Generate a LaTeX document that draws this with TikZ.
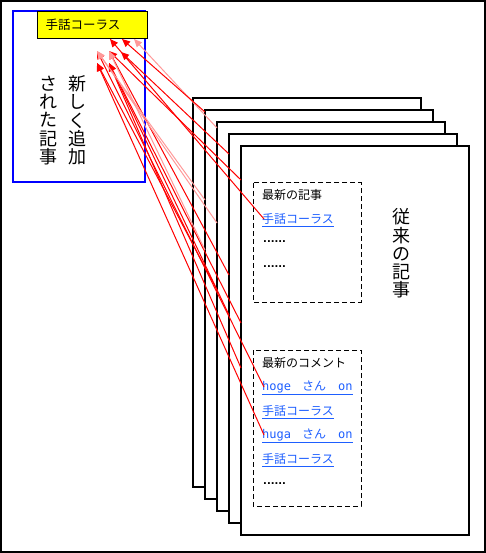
\documentclass[tikz,border=0pt]{standalone}
\usepackage{fontspec}
\setmainfont{Noto Sans CJK JP}
\newfontfamily\latinmono{DejaVu Sans Mono}
\newfontfamily\dotfont{DejaVu Sans}
\usetikzlibrary{arrows.meta}
\definecolor{linkblue}{RGB}{30,95,255}
\definecolor{tagyellow}{RGB}{255,255,0}
\definecolor{newblue}{RGB}{0,0,255}

\begin{document}
\begin{tikzpicture}[x=1pt, y=-1pt]

  % styles
  \tikzset{
    page/.style={draw=black, fill=white, line width=1.4pt},
    recent/.style={draw=black, dash pattern=on 5pt off 3pt, line width=1pt},
    label/.style={anchor=west, inner sep=0pt, font=\fontsize{12}{12}\selectfont},
    link/.style={label, text=linkblue,
      append after command={([yshift=-1.5pt]\tikzlastnode.south west)
        edge[draw=linkblue, line width=1pt] ([yshift=-1.5pt]\tikzlastnode.south east)}},
    dots/.style={label, font=\dotfont\bfseries\fontsize{10}{10}\selectfont},
    vtext/.style={align=center, inner sep=0pt, font=\fontsize{18}{18.3}\selectfont},
    tagbox/.style={draw=black, fill=tagyellow, line width=1pt, anchor=north west,
      inner xsep=8pt, inner ysep=0pt, minimum height=27pt, text width=94pt,
      align=left, font=\fontsize{12.5}{12.5}\selectfont},
    ref/.style={draw=red, line width=1pt, {Triangle[length=8pt,width=7pt]}-},
    faint/.style={ref, draw=red!40}
  }

  \useasboundingbox (0,0) rectangle (486,553);
  \draw[line width=1.6pt] (0.8,0.8) rectangle (485.2,552.2);

  %% new article (left)
  \draw[draw=newblue, fill=white, line width=1.3pt] (13,11) rectangle (145,182);
  \node[tagbox] (tag) at (37,11) {手話コーラス};
  \node[vtext] (added) at (77.5,120.5) {新\\し\\く\\追\\加};
  \node[vtext] (made) at (48.5,120.5) {さ\\れ\\た\\記\\事};

  %% old articles (stack of pages)
  \foreach \k in {0,...,4}
    \draw[page] ({193+12*\k},{98+12*\k}) rectangle ++(228,389);

  \node[vtext] (old) at (401.5,253.5) {従\\来\\の\\記\\事};

  % recent articles box
  \draw[recent] (253,183) rectangle (361,302);
  \node[label] (hdrA) at (262,195) {最新の記事};
  \node[link] (lnkA) at (262,219) {手話コーラス};
  \node[dots] (dotA1) at (263,242) {......};
  \node[dots] (dotA2) at (263,267) {......};

  % recent comments box
  \draw[recent] (253,350) rectangle (361,506);
  \node[label] (hdrC) at (262,363) {最新のコメント};
  \node[link] (lnkH) at (262,387) {{\latinmono hoge}\hspace{11pt}さん\hspace{12pt}{\latinmono on}};
  \node[link] (lnkH2) at (262,411) {手話コーラス};
  \node[link] (lnkU) at (262,435) {{\latinmono huga}\hspace{11pt}さん\hspace{12pt}{\latinmono on}};
  \node[link] (lnkU2) at (262,459) {手話コーラス};
  \node[dots] (dotC) at (263,484) {......};

  %% arrow tips at the tag
  \coordinate (t1) at (110,39);
  \coordinate (t2) at (122,39);
  \coordinate (t3) at (134,39);
  \coordinate (t4) at (97,51);
  \coordinate (t5) at (109,51);
  \coordinate (t6) at (121,52);
  \coordinate (t7) at (97,63);
  \coordinate (t8) at (109,63);

  % where the links of the back pages disappear
  \coordinate (b1) at (241,180);
  \coordinate (b2) at (229,154);
  \coordinate (b3) at (217,128);
  \coordinate (b4) at (205,112);
  \coordinate (b5) at (241,368);
  \coordinate (b6) at (241,323);
  \coordinate (b7) at (229,275);
  \coordinate (b8) at (217,223);
  \coordinate (b9) at (229,315);
  \coordinate (b10) at (217,290);
  \coordinate (b11) at (205,250);
  \coordinate (b12) at (205,200);

  \draw[ref] (t1) -- ([xshift=2pt]lnkA.west);
  \draw[ref] (t5) -- (b1);
  \draw[ref] (t6) -- (b2);
  \draw[faint] (t3) -- (b3);
  \draw[ref] (t2) -- (b4);
  \draw[ref] (t4) -- ([xshift=2pt]lnkH.west);
  \draw[ref] (t7) -- ([xshift=2pt]lnkU.west);
  \draw[ref] (t8) -- (b5);
  \draw[ref] (t8) -- (b6);
  \draw[ref] (t5) -- (b7);
  \draw[faint] (t4) -- (b8);
  \draw[ref] (t8) -- (b9);
  \draw[ref] (t7) -- (b10);
  \draw[faint] (t5) -- (b11);
  \draw[faint] (t4) -- (b12);

\end{tikzpicture}
\end{document}
